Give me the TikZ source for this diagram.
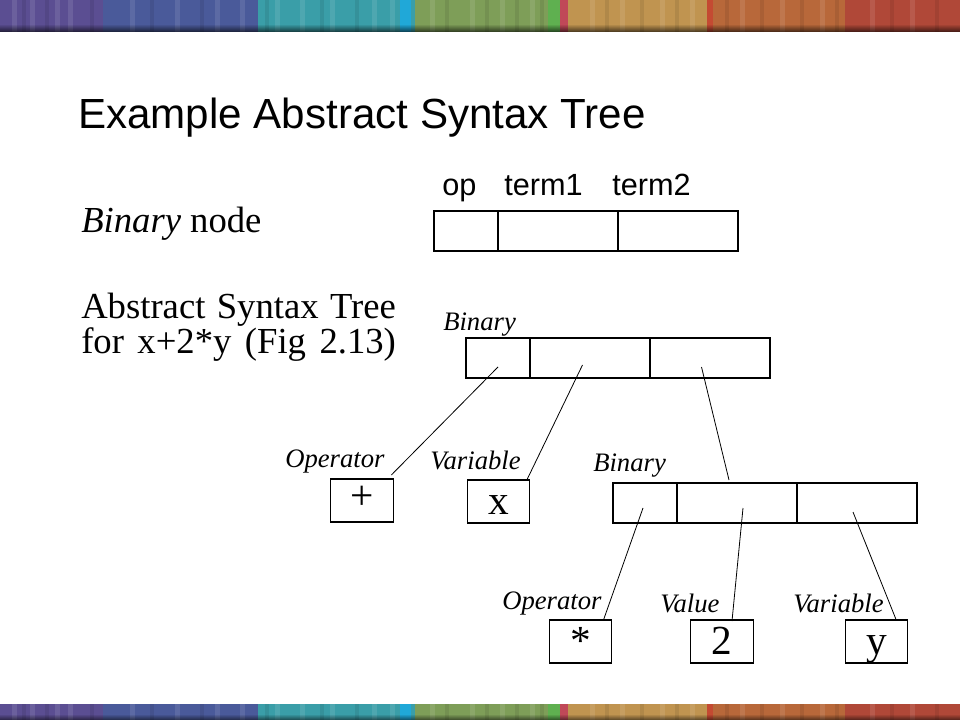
\documentclass[tikz,border=0pt]{standalone}
\usepackage{fontspec}
\setmainfont{Liberation Serif}
\newfontfamily\arialf{Liberation Sans}
\usetikzlibrary{calc}
\definecolor{bPurple}{HTML}{5B4E92}
\definecolor{bBlue}{HTML}{4A5A9A}
\definecolor{bTeal}{HTML}{3A9EA8}
\definecolor{bCyan}{HTML}{20A8D8}
\definecolor{bGreen}{HTML}{7E9E58}
\definecolor{bLime}{HTML}{5FB050}
\definecolor{bPink}{HTML}{C04858}
\definecolor{bTan}{HTML}{C09450}
\definecolor{bOrange}{HTML}{B8683A}
\definecolor{bRedL}{HTML}{C44A32}
\definecolor{bRed}{HTML}{B04838}
\begin{document}
\begin{tikzpicture}[x=0.75pt,y=-0.75pt,
  cell/.style={draw, line width=0.9pt, inner sep=0pt, outer sep=0pt, minimum height=30pt, anchor=north west},
  narrow/.style={cell, minimum width=48pt},
  wide/.style={cell, minimum width=90pt},
  leaf/.style={draw, line width=0.9pt, inner sep=0pt, outer sep=0pt, minimum width=47pt, minimum height=32.25pt, font=\fontsize{31}{34}\selectfont, text height=25.5pt, text depth=6.75pt},
  lbl/.style={inner sep=0pt, anchor=base west, font=\fontsize{20}{22}\selectfont\itshape},
  body/.style={inner sep=0pt, anchor=base west, font=\fontsize{27.5}{30}\selectfont},
  head/.style={inner sep=0pt, anchor=base west, font=\arialf\fontsize{23}{26}\selectfont},
  edge/.style={line width=0.6pt},
]
\useasboundingbox (0,0) rectangle (960,720);
\fill[white] (0,0) rectangle (960,720);

% colour bands (top and bottom)
\foreach \ya/\yb in {0/32, 704/720}{
  \fill[bPurple] (0,\ya) rectangle (103,\yb);
  \fill[bBlue] (103,\ya) rectangle (258,\yb);
  \fill[bTeal] (258,\ya) rectangle (400,\yb);
  \fill[bCyan] (400,\ya) rectangle (411,\yb);
  \fill[bTeal] (411,\ya) rectangle (415,\yb);
  \fill[bGreen] (415,\ya) rectangle (548,\yb);
  \fill[bLime] (548,\ya) rectangle (560,\yb);
  \fill[bPink] (560,\ya) rectangle (568,\yb);
  \fill[bTan] (568,\ya) rectangle (707,\yb);
  \fill[bRedL] (707,\ya) rectangle (713,\yb);
  \fill[bOrange] (713,\ya) rectangle (845,\yb);
  \fill[bRed] (845,\ya) rectangle (960,\yb);
  \foreach \sx in {12,30,55,68,130,175,215,240,275,300,330,372,390,430,470,500,530,590,620,660,690,740,780,820,870,910}{
    \fill[white,opacity=0.10] (\sx,\ya) rectangle (\sx+5,\yb);
  }
  \foreach \sx in {22,45,90,150,200,265,320,355,445,485,515,540,605,640,675,725,760,800,835,890,935}{
    \fill[black,opacity=0.08] (\sx,\ya) rectangle (\sx+4,\yb);
  }
}
\foreach \i in {0,...,7}{
  \pgfmathsetmacro{\op}{0.08*\i}
  \fill[black,opacity=\op] (0,24+\i) rectangle (960,25+\i);
}
\foreach \i in {0,...,5}{
  \pgfmathsetmacro{\op}{0.09*\i}
  \fill[black,opacity=\op] (0,714+\i) rectangle (960,715+\i);
}

% title
\node[inner sep=0pt, anchor=base west, font=\arialf\fontsize{31.6}{36}\selectfont] (title) at (78,129) {Example Abstract Syntax Tree};

% left text
\node[body] (bn) at (81,233) {\textit{Binary} node};
\node[body] (ast1) at (81,318) {\makebox[236pt][s]{Abstract Syntax Tree}};
\node[body] (ast2) at (81,353) {\makebox[236pt][s]{for x+2*y (Fig 2.13)}};

% field names
\node[head] (hop) at (442,196) {op};
\node[head] (ht1) at (504,196) {term1};
\node[head] (ht2) at (612,196) {term2};

% template record
\node[narrow] (c11) at (434,211) {};
\node[wide] (c12) at (498,211) {};
\node[wide] (c13) at (618,211) {};

% binary record 1
\node[lbl] (lb1) at (443,330) {Binary};
\node[narrow] (c21) at (466,338) {};
\node[wide] (c22) at (530,338) {};
\node[wide] (c23) at (650,338) {};

% leaves level 1
\node[lbl] (lo1) at (285,467) {Operator};
\node[lbl] (lv1) at (430,469) {Variable};
\node[leaf] (plus) at (362,500.5) {\raisebox{3pt}{+}};
\node[leaf] (xv) at (498.5,501.5) {x};

% binary record 2
\node[lbl] (lb2) at (593,471) {Binary};
\node[narrow] (c31) at (613,483) {};
\node[wide] (c32) at (677,483) {};
\node[wide] (c33) at (797,483) {};

% leaves level 2
\node[lbl] (lo2) at (502,609) {Operator};
\node[lbl] (lval) at (660,612) {Value};
\node[lbl] (lv2) at (793,612) {Variable};
\node[leaf] (star) at (580.5,641.5) {*};
\node[leaf] (two) at (722,641.5) {2};
\node[leaf] (yv) at (876.5,641.5) {y};

% connectors
\draw[edge] ($(c21.center)+(0,9)$) -- ($(plus.north east)+(-2,-4)$);
\draw[edge] ($(c22.center)+(-7.5,7)$) -- ($(xv.north east)+(-3,0)$);
\draw[edge] ($(c23.center)+(-8.5,9)$) -- ($(c32.north)+(-8,-3)$);
\draw[edge] ($(c31.center)+(-2,5)$) -- ($(star.north east)+(-8,-1)$);
\draw[edge] ($(c32.center)+(6,5)$) -- ($(two.north)+(10,1)$);
\draw[edge] ($(c33.center)+(-4,9)$) -- ($(yv.north east)+(-12,-1)$);
\end{tikzpicture}
\end{document}
